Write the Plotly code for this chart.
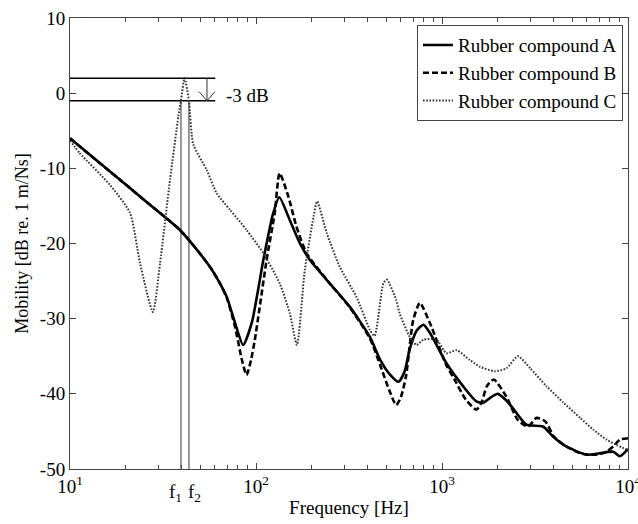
import numpy as np
import plotly.graph_objects as go

# ---- data ----
freq_A = [10, 20, 30, 39, 48, 56.5, 63, 69.6, 77, 85.3, 95, 109.5, 123.6, 133.4, 152, 172, 195, 249, 319,
          409, 464, 520, 584, 630, 670, 730, 794, 862, 1055, 1300, 1530, 1670, 1800, 2000, 2200, 2420,
          2840, 3490, 3960, 4660, 5990, 7050, 8330, 9040, 10000]
mob_A = [-6.0, -12.2, -15.8, -18.2, -20.8, -23.1, -25.0, -27.1, -30.5, -33.5, -30.5, -22.2, -16.0, -13.85,
         -16.9, -19.96, -22.2, -25.3, -28.4, -32.4, -35.4, -37.3, -38.4, -37.0, -34.1, -31.6, -30.8, -31.9,
         -35.9, -39.0, -41.0, -41.2, -40.6, -40.0, -40.8, -42.0, -44.1, -44.35, -45.7, -47.0, -48.1, -47.9,
         -47.7, -48.3, -47.35]

freq_B = [10, 20, 30, 39, 48, 56.5, 63, 69.6, 77, 84, 89, 94, 98.6, 114, 126, 134, 149.5, 165, 187, 249,
          319, 409, 464, 520, 567, 600, 640, 700, 760, 862, 1055, 1145, 1345, 1530, 1640, 1740, 1900, 2220,
          2560, 2900, 3230, 3600, 4000, 4520, 5520, 6790, 7680, 8330, 9040, 10000]
mob_B = [-6.0, -12.2, -15.8, -18.2, -20.8, -23.1, -25.0, -27.2, -31.0, -35.5, -37.5, -35.5, -32.8, -22.2,
         -16.0, -10.65, -13.8, -17.75, -21.3, -25.3, -28.5, -32.6, -36.1, -39.5, -41.5, -40.5, -37.7, -30.2,
         -27.9, -30.6, -36.2, -37.7, -40.8, -42.1, -41.0, -39.0, -38.1, -40.4, -43.5, -44.35, -43.2, -43.7,
         -45.7, -46.8, -47.9, -48.1, -47.7, -47.0, -46.1, -45.9]

freq_C = [10, 11.3, 16.4, 21, 23.8, 27.9, 30.5, 34.5, 38.3, 39.5, 41.3, 43.6, 46, 54.3, 61.4, 72.4, 89,
          109.5, 134, 152, 166, 183, 204, 213, 240, 282, 346, 410, 434, 484, 505, 567, 592, 670, 730, 794,
          935, 1055, 1200, 1411, 1600, 1925, 2220, 2560, 2980, 3650, 4510, 5530, 6530, 7680, 8690, 10000]
mob_C = [-6.3, -8.0, -12.2, -15.9, -22.6, -29.1, -22.6, -11.5, -3.0, -1.0, 2.0, -1.0, -6.8, -10.2, -13.3,
         -15.5, -18.2, -21.3, -25.3, -29.3, -33.5, -23.5, -16.4, -14.4, -18.6, -23.1, -27.05, -31.5, -32.3,
         -25.3, -24.8, -27.5, -29.3, -32.4, -33.5, -32.8, -32.8, -34.6, -34.2, -35.5, -36.4, -37.0, -36.6,
         -35.0, -36.6, -39.0, -41.2, -43.2, -44.8, -46.1, -46.8, -47.5]

series_names = ["Rubber compound A", "Rubber compound B", "Rubber compound C"]

# -3 dB construction
f1, f2 = 39.5, 43.6
peak_level, half_level = 2.0, -1.0
ref_line_end = 60.4
arrow_freq = 54.5

x_major = [10, 100, 1000, 10000]
x_major_text = ["10<sup>1</sup>", "10<sup>2</sup>", "10<sup>3</sup>", "10<sup>4</sup>"]
x_minor = [m * 10 ** k for k in range(1, 4) for m in range(2, 10)]
y_ticks = [10, 0, -10, -20, -30, -40, -50]
y_text = ["10", "0", "-10", "-20", "-30", "-40", "-50"]

FONT = "Liberation Serif, Tinos, Times New Roman, DejaVu Serif, serif"
AX = "#444"

fig = go.Figure()

# reference (-3 dB) lines
fig.add_trace(go.Scatter(x=[10, ref_line_end], y=[peak_level, peak_level], mode="lines",
                         line=dict(color="black", width=1.5), showlegend=False, hoverinfo="skip"))
fig.add_trace(go.Scatter(x=[10, ref_line_end], y=[half_level, half_level], mode="lines",
                         line=dict(color="black", width=1.5), showlegend=False, hoverinfo="skip"))
for f in (f1, f2):
    fig.add_trace(go.Scatter(x=[f, f], y=[-50, half_level], mode="lines",
                             line=dict(color="#333", width=1), showlegend=False, hoverinfo="skip"))
fig.add_trace(go.Scatter(x=[arrow_freq, arrow_freq], y=[peak_level, half_level], mode="lines",
                         line=dict(color="#333", width=1), showlegend=False, hoverinfo="skip"))

styles = [dict(color="black", width=2.6),
          dict(color="black", width=2.6, dash="6px,3px"),
          dict(color="#333", width=2, dash="1.6px,1.6px")]
for fx, fy, name, st in zip([freq_A, freq_B, freq_C], [mob_A, mob_B, mob_C], series_names, styles):
    fig.add_trace(go.Scatter(x=fx, y=fy, mode="lines", name=name,
                             line=dict(shape="spline", smoothing=0.6, **st)))

# arrow head (open V) at the -3 dB level
fig.add_shape(type="path", xref="x", yref="y", xsizemode="pixel", ysizemode="pixel",
              xanchor=arrow_freq, yanchor=half_level,
              path="M-8,9 L0,0 L8,9", line=dict(color="#333", width=1))

fig.add_annotation(x=np.log10(ref_line_end), y=-0.25, xref="x", yref="y", text="-3 dB",
                   showarrow=False, xanchor="left", yanchor="middle", xshift=9,
                   font=dict(family=FONT, size=19, color="black"))
for f, lab, anc, sh in ((f1, "f<sub>1</sub>", "right", 3), (f2, "f<sub>2</sub>", "left", -3)):
    fig.add_annotation(x=np.log10(f), y=0, xref="x", yref="paper", text=lab, showarrow=False,
                       xanchor=anc, xshift=sh, yanchor="top", yshift=-10,
                       font=dict(family=FONT, size=19, color="black"))

fig.update_xaxes(type="log", range=[1, 4], tickmode="array", tickvals=x_major, ticktext=x_major_text,
                 ticks="inside", ticklen=6, tickcolor=AX, showline=True, linecolor=AX, linewidth=1,
                 mirror="allticks", showgrid=False, zeroline=False, ticklabeloverflow="allow",
                 automargin=False,
                 minor=dict(tickmode="array", tickvals=x_minor, ticks="inside", ticklen=4, tickcolor=AX,
                            showgrid=False),
                 title=dict(text="Frequency [Hz]", font=dict(family=FONT, size=19, color="black"), standoff=4),
                 tickfont=dict(family=FONT, size=19, color="black"))
fig.update_yaxes(range=[-50, 10], tickmode="array", tickvals=y_ticks, ticktext=y_text,
                 ticks="inside", ticklen=6, tickcolor=AX, showline=True, linecolor=AX, linewidth=1,
                 mirror="allticks", showgrid=False, zeroline=False, automargin=False,
                 title=dict(text="Mobility [dB re. 1 m/Ns]", font=dict(family=FONT, size=18, color="black"),
                            standoff=6),
                 tickfont=dict(family=FONT, size=19, color="black"))

fig.update_layout(width=638, height=524, margin=dict(l=70, r=10, t=18, b=55),
                  paper_bgcolor="white", plot_bgcolor="white",
                  legend=dict(x=0.991, y=0.984, xanchor="right", yanchor="top", bgcolor="white",
                              bordercolor=AX, borderwidth=1, font=dict(family=FONT, size=19, color="black"),
                              tracegroupgap=0),
                  showlegend=True)

fig.write_html("out.html")
